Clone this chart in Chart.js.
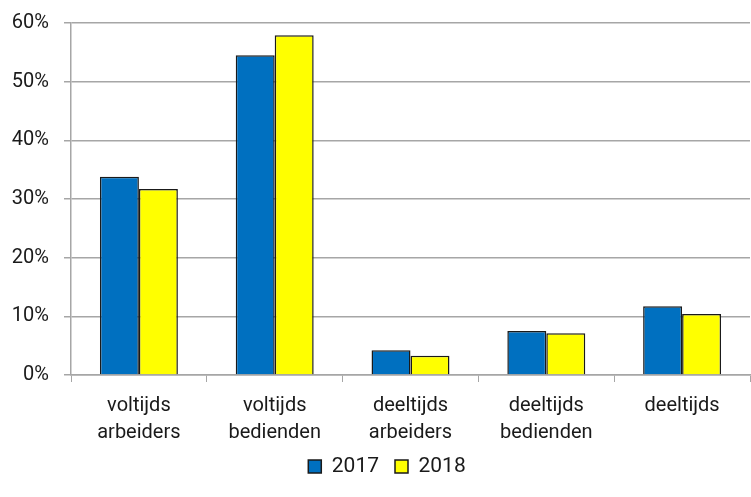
<!DOCTYPE html>
<html>
<head>
<meta charset="utf-8">
<script src="https://cdn.jsdelivr.net/npm/chart.js@4/dist/chart.umd.min.js"></script>
<style>
  html, body { margin: 0; padding: 0; background: #fff; }
  #wrap { width: 751px; height: 497px; }
</style>
</head>
<body>
<div id="wrap"><canvas id="chart" width="751" height="497"></canvas></div>
<script>
// Data
const categories = [["voltijds", "arbeiders"], ["voltijds", "bedienden"], ["deeltijds", "arbeiders"], ["deeltijds", "bedienden"], "deeltijds"];
const seriesNames = ["2017", "2018"];
const values2017 = [33.8, 54.5, 4.2, 7.5, 11.7];
const values2018 = [31.7, 57.9, 3.3, 7.1, 10.4];
const yTicks = [0, 10, 20, 30, 40, 50, 60];

Chart.defaults.font.family = "Roboto";
Chart.defaults.color = "#1a1a1a";

// nudge the legend a little to the right, like the original
const legendShift = {
    id: "legendShift",
    afterLayout(chart) { chart.legend.left += 24; }
};

new Chart(document.getElementById("chart").getContext("2d"), {
    type: "bar",
    data: {
        labels: categories,
        datasets: [
            { label: seriesNames[0], data: values2017, backgroundColor: "#0070C0", borderColor: "#1a1a1a", borderWidth: 1.5 },
            { label: seriesNames[1], data: values2018, backgroundColor: "#FFFF00", borderColor: "#1a1a1a", borderWidth: 1.5 }
        ]
    },
    options: {
        responsive: false,
        animation: false,
        layout: { padding: { top: 23, right: 1, left: 0, bottom: 10 } },
        datasets: { bar: { categoryPercentage: 0.574, barPercentage: 1 } },
        scales: {
            x: {
                afterFit: axis => { axis.height -= 16; },
                grid: { offset: true, drawOnChartArea: false, color: "#a6a6a6", tickLength: 7 },
                border: { color: "#a6a6a6", width: 1.5 },
                ticks: { font: { size: 20, lineHeight: 1.35 }, color: "#1a1a1a", maxRotation: 0, padding: 10 }
            },
            y: {
                min: 0, max: 60,
                afterBuildTicks: axis => { axis.ticks = yTicks.map(v => ({ value: v })); },
                afterFit: axis => { axis.width = 71; axis.paddingTop = 0; },
                grid: { color: "#a6a6a6", lineWidth: 1.5, tickLength: 7 },
                border: { color: "#a6a6a6", width: 1.5 },
                ticks: { font: { size: 20 }, color: "#1a1a1a", padding: 15, callback: v => v + "%" }
            }
        },
        plugins: {
            legend: {
                position: "bottom",
                labels: { boxWidth: 13, boxHeight: 13, font: { size: 21 }, color: "#1a1a1a", padding: 16 }
            },
            tooltip: { enabled: false }
        }
    },
    plugins: [legendShift]
});
</script>
</body>
</html>
